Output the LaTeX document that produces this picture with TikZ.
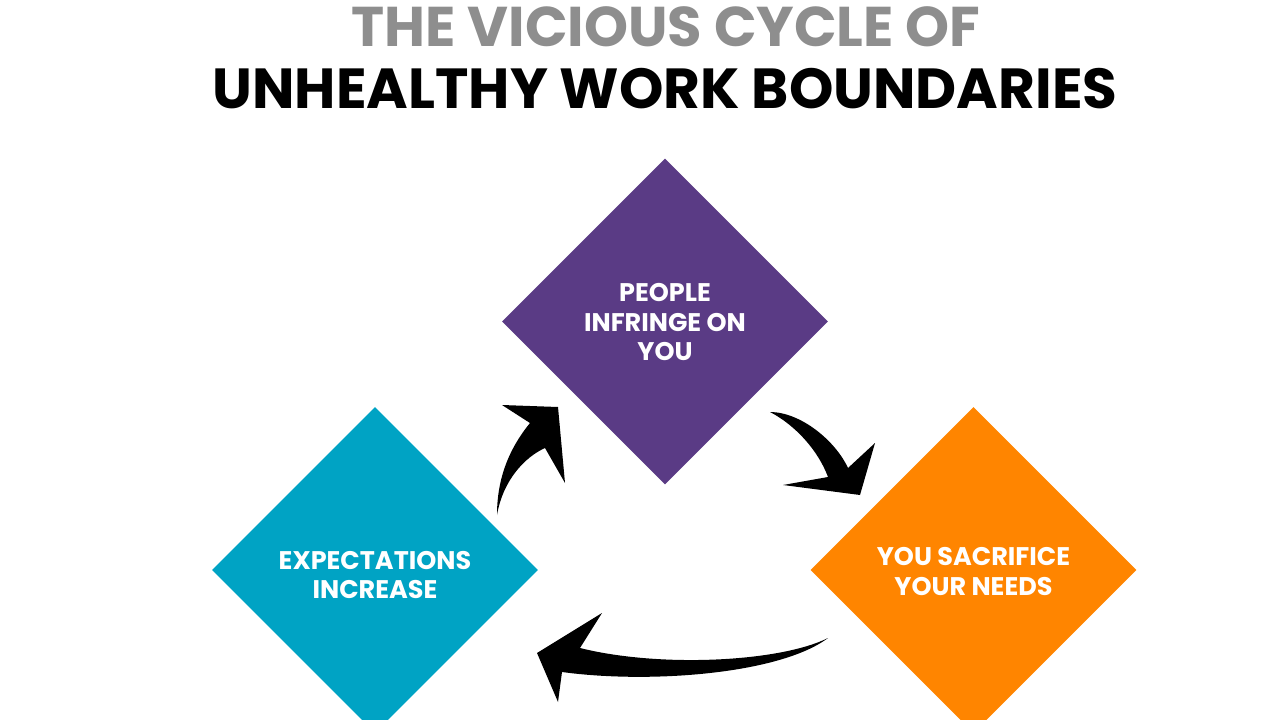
\documentclass[tikz,border=0pt]{standalone}
\usepackage{fontspec}
\setmainfont{Poppins}
\usetikzlibrary{shapes.geometric}
\definecolor{cpurple}{HTML}{5A3B85}
\definecolor{cblue}{HTML}{00A3C4}
\definecolor{corange}{HTML}{FF8500}
\definecolor{cgray}{HTML}{8E8E8E}
\tikzset{
  box/.style={diamond, aspect=1, minimum width=326pt, minimum height=326pt, inner sep=0pt},
  lbl/.style={text=white, font=\bfseries\fontsize{25.5}{29.5}\selectfont, align=center, inner sep=0pt},
  cyclearrow/.style={fill=black},
  titleA/.style={anchor=base, text=cgray, font=\bfseries\fontsize{56}{60}\selectfont},
  titleB/.style={anchor=base, text=black, font=\bfseries\fontsize{56.5}{60}\selectfont}
}
\begin{document}
\begin{tikzpicture}[x=1pt,y=-1pt]
\useasboundingbox (0,0) rectangle (1280,720);
\node[titleA] (t1) at (666,46.5) {THE VICIOUS CYCLE OF};
\node[titleB] (t2) at (665,108) {UNHEALTHY WORK BOUNDARIES};
\node[box, fill=cpurple] (infr) at (665,321.5) {};
\node[box, fill=cblue] (expe) at (375,570) {};
\node[box, fill=corange] (sacr) at (973.5,570) {};
\node[lbl] (infrtxt) at ([yshift=-1pt]infr.center) {PEOPLE\\INFRINGE ON\\YOU};
\node[lbl] (expetxt) at ([yshift=-5pt]expe.center) {EXPECTATIONS\\INCREASE};
\node[lbl] (sacrtxt) at ([yshift=-1.5pt]sacr.center) {YOU SACRIFICE\\YOUR NEEDS};
% arrow: expectations -> people infringe
\coordinate (a1tail) at (497,515);
\coordinate (a1tip) at (558,407);
\fill[cyclearrow] (a1tail) .. controls (497,480) and (508,450) .. (530,423)
  -- (502,405) -- (a1tip) -- (565,483) -- (545,448)
  .. controls (525,457) and (503,480) .. (a1tail) -- cycle;
% arrow: people infringe -> you sacrifice
\coordinate (a2tail) at (770,412);
\coordinate (a2tip) at (860,495);
\fill[cyclearrow] (a2tail) .. controls (800,412) and (835,440) .. (848,468)
  -- (875,443) -- (a2tip) -- (783,485) -- (828,477)
  .. controls (818,450) and (795,425) .. (a2tail) -- cycle;
% arrow: you sacrifice -> expectations
\coordinate (a3tail) at (828,638);
\coordinate (a3tip) at (537,653);
\fill[cyclearrow] (a3tail) .. controls (780,662) and (660,668) .. (580,648)
  -- (602,613) -- (a3tip) -- (558,702) -- (562,672)
  .. controls (650,684) and (780,674) .. (a3tail) -- cycle;
\end{tikzpicture}
\end{document}
